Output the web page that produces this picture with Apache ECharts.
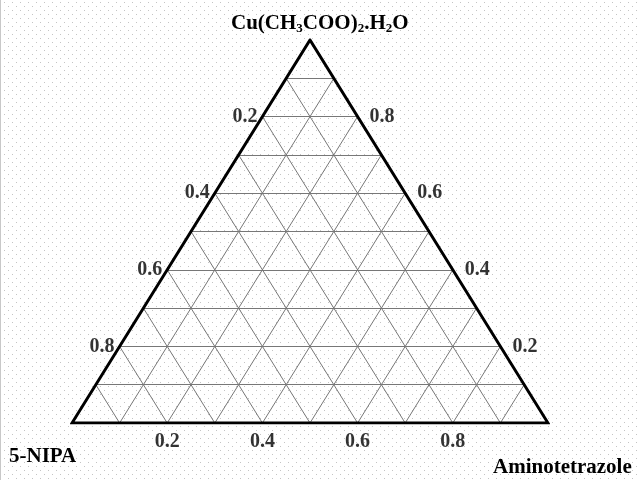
<!DOCTYPE html>
<html><head><meta charset="utf-8">
<script src="https://cdn.jsdelivr.net/npm/echarts@6/dist/echarts.min.js"></script>
<style>html,body{margin:0;padding:0;background:#fff}#c{width:640px;height:480px}</style>
</head><body><div id="c"></div>
<script>
// Ternary diagram structure
var gridSteps = [0.1,0.2,0.3,0.4,0.5,0.6,0.7,0.8,0.9];
var bottomTicks = [0.2,0.4,0.6,0.8];   // Aminotetrazole fraction along base
var rightTicks = [0.2,0.4,0.6,0.8];    // Cu(CH3COO)2.H2O fraction along right edge
var leftTicks = [0.2,0.4,0.6,0.8];     // 5-NIPA fraction along left edge
var leftName = '5-NIPA';
var rightName = 'Aminotetrazole';

// background dot pattern
(function(){
  var cv = document.createElement('canvas'); cv.width = 8; cv.height = 8;
  var g = cv.getContext('2d'); g.fillStyle = '#c4c4c4';
  g.fillRect(4,2,1,1); g.fillRect(0,6,1,1);
  var el = document.getElementById('c');
  el.style.backgroundImage = 'url(' + cv.toDataURL() + ')';
})();

// ternary (right, top) -> cartesian
function tern(r, c){ return [r + c/2, c]; }

var gridLines = [];
gridSteps.forEach(function(k){
  gridLines.push({coords:[tern(0,k), tern(1-k,k)]});          // constant top
  gridLines.push({coords:[tern(k,0), tern(k,1-k)]});          // constant right
  gridLines.push({coords:[tern(1-k,0), tern(0,1-k)]});        // constant left
});

var font = 'Liberation Serif';
function lbl(pos, dist){
  return {show:true, position:pos, distance:dist, color:'#000', fontFamily:font, fontWeight:'bold', fontSize:20,
          formatter:function(p){return p.data[2];}};
}

var chart = echarts.init(document.getElementById('c'), null, {renderer:'canvas'});
chart.setOption({
  animation:false,
  backgroundColor:'transparent',
  graphic:[{type:'rect', shape:{x:0,y:0,width:1,height:480}, style:{fill:'#c8c8c8'}, silent:true}],
  title:[
    {text:'{n|Cu(CH}{s|3}{n|COO)}{s|2}{n|.H}{s|2}{n|O}', left:226, top:7,
     textStyle:{rich:{n:{fontFamily:font,fontWeight:'bold',fontSize:21,color:'#000',lineHeight:24},
                      s:{fontFamily:font,fontWeight:'bold',fontSize:13,color:'#000',lineHeight:24,padding:[9,0,0,0]}}}},
    {text:leftName, left:4, top:441, textStyle:{fontFamily:font,fontWeight:'bold',fontSize:21,color:'#000'}},
    {text:rightName, left:488, top:452, textStyle:{fontFamily:font,fontWeight:'bold',fontSize:21,color:'#000'}}
  ],
  grid:{left:72, right:92, top:40, bottom:57},
  xAxis:{type:'value', min:0, max:1, show:false},
  yAxis:{type:'value', min:0, max:1, show:false},
  series:[
    {type:'lines', coordinateSystem:'cartesian2d', silent:true, data:gridLines,
     lineStyle:{color:'#777', width:1, opacity:1}},
    {type:'line', data:[tern(0,0), tern(1,0), tern(0,1), tern(0,0), tern(1,0)], showSymbol:false, silent:true,
     lineStyle:{color:'#000', width:3, join:'miter'}},
    {type:'scatter', symbolSize:0, silent:true,
     data:bottomTicks.map(function(v){var p=tern(v,0); return [p[0],p[1],v.toFixed(1)];}),
     label:lbl('bottom', 9)},
    {type:'scatter', symbolSize:0, silent:true,
     data:rightTicks.map(function(v){var p=tern(1-v,v); return [p[0],p[1],v.toFixed(1)];}),
     label:lbl('right', 12)},
    {type:'scatter', symbolSize:0, silent:true,
     data:leftTicks.map(function(v){var p=tern(0,1-v); return [p[0],p[1],v.toFixed(1)];}),
     label:lbl('left', 5)}
  ]
});
</script></body></html>
